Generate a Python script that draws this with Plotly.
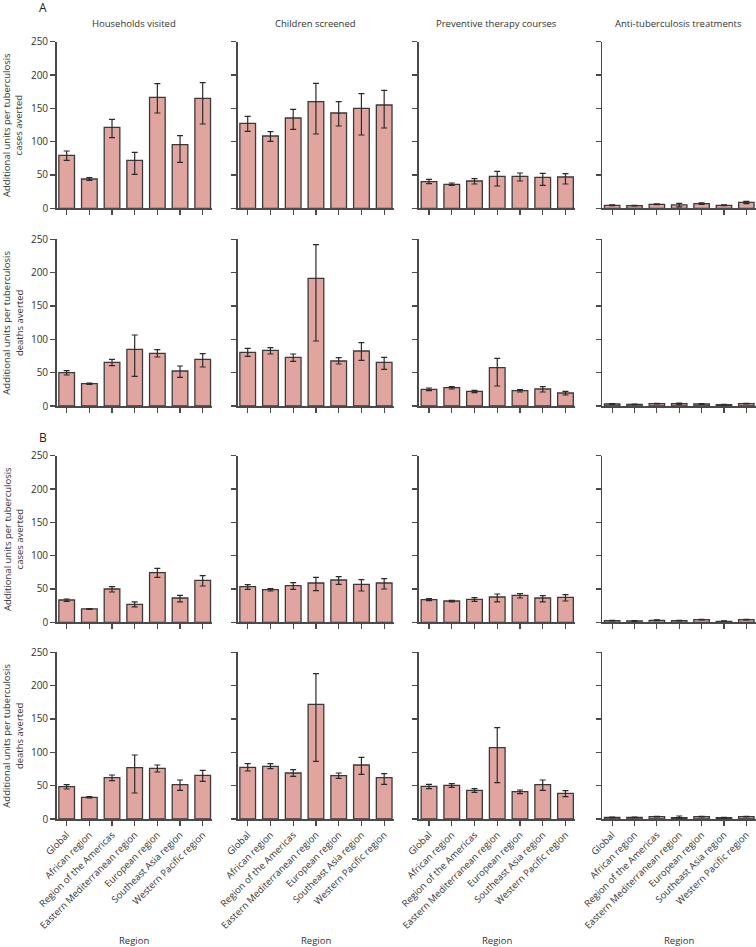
import plotly.graph_objects as go

regions = ["Global", "African region", "Region of the Americas", "Eastern Mediterranean region",
           "European region", "Southeast Asia region", "Western Pacific region"]
measures = ["Households visited", "Children screened", "Preventive therapy courses",
            "Anti-tuberculosis treatments"]
y_ticks = [0, 50, 100, 150, 200, 250]
row_titles = ["Additional units per tuberculosis<br>cases averted",
              "Additional units per tuberculosis<br>deaths averted",
              "Additional units per tuberculosis<br>cases averted",
              "Additional units per tuberculosis<br>deaths averted"]

# ---- A: cases averted ----
a_cases_households = [79.5, 44, 121.5, 72, 166.5, 95.5, 165]
a_cases_households_lo = [72, 42, 106, 51, 143, 69, 126.5]
a_cases_households_hi = [86, 46, 133.5, 84, 187, 109, 188.5]
a_cases_children = [127.5, 108.5, 135.5, 160, 143, 150, 155]
a_cases_children_lo = [115.5, 100.5, 118.5, 111.5, 123.5, 110, 120.5]
a_cases_children_hi = [138, 115, 148.5, 187.5, 160, 172, 177]
a_cases_preventive = [40, 36, 41, 48, 48, 46.5, 47]
a_cases_preventive_lo = [37, 34.5, 36.5, 33.5, 41, 34.5, 36.5]
a_cases_preventive_hi = [43.5, 38, 44.5, 55.5, 53, 52.5, 52]
a_cases_treatment = [4.5, 4, 6, 5, 7, 4.5, 9]
a_cases_treatment_lo = [4, 3.5, 5.5, 2, 6, 4, 7]
a_cases_treatment_hi = [5, 4.5, 6.5, 7.5, 8, 5, 10.5]

# ---- A: deaths averted ----
a_deaths_households = [50, 33.5, 65.5, 85, 79, 52.5, 70]
a_deaths_households_lo = [46.5, 32.5, 60.5, 44.5, 73.5, 43, 58.5]
a_deaths_households_hi = [53, 34.5, 70, 106.5, 84.5, 60, 78.5]
a_deaths_children = [80.5, 83.5, 73, 191.5, 67.5, 82.5, 65.5]
a_deaths_children_lo = [74.5, 78, 67, 97.5, 63, 68.5, 55]
a_deaths_children_hi = [86.5, 87.5, 78, 242, 72.5, 95, 73]
a_deaths_preventive = [25, 27.5, 22, 57.5, 23, 25.5, 19.5]
a_deaths_preventive_lo = [23, 25.5, 20, 30, 21, 21, 16.5]
a_deaths_preventive_hi = [27, 29, 23.5, 71.5, 24.5, 29, 22]
a_deaths_treatment = [3, 2.5, 3.5, 3.5, 3, 2, 3.5]
a_deaths_treatment_lo = [2.5, 2, 3, 2.5, 2.5, 1.5, 3]
a_deaths_treatment_hi = [3.5, 3, 4, 4.5, 3.5, 2.5, 4]

# ---- B: cases averted ----
b_cases_households = [33.5, 20, 50, 27, 74.5, 36.5, 63]
b_cases_households_lo = [31.5, 19.5, 45.5, 23, 67.5, 30.5, 54.5]
b_cases_households_hi = [35, 20.5, 53.5, 30.5, 81, 40.5, 70]
b_cases_children = [53.5, 49, 55, 59, 63.5, 57, 59]
b_cases_children_lo = [49.5, 47, 49.5, 47.5, 57, 47, 50]
b_cases_children_hi = [56.5, 50.5, 59.5, 67.5, 68.5, 64, 65.5]
b_cases_preventive = [34, 32, 34.5, 38, 40.5, 36.5, 37.5]
b_cases_preventive_lo = [32.5, 30.5, 31.5, 30.5, 36.5, 30.5, 32]
b_cases_preventive_hi = [35.5, 33, 37, 42.5, 43, 40, 41.5]
b_cases_treatment = [2.5, 2, 3, 2.5, 4, 1.5, 4]
b_cases_treatment_lo = [2, 1.5, 2.5, 2, 3.5, 1, 3.5]
b_cases_treatment_hi = [3, 2.5, 3.5, 3, 4.5, 2, 4.5]

# ---- B: deaths averted ----
b_deaths_households = [48.5, 32.5, 62, 77, 76, 51.5, 65.5]
b_deaths_households_lo = [45, 31.5, 57.5, 39, 70.5, 43, 56.5]
b_deaths_households_hi = [51.5, 33.5, 66, 96, 81, 58.5, 73]
b_deaths_children = [77.5, 79, 69, 172, 65, 81, 62]
b_deaths_children_lo = [72, 75.5, 64, 86.5, 61, 67, 52]
b_deaths_children_hi = [83, 83, 74, 218, 69, 92.5, 68]
b_deaths_preventive = [49, 50.5, 43, 107, 41, 51.5, 38.5]
b_deaths_preventive_lo = [45.5, 47.5, 40, 54.5, 38, 43, 33.5]
b_deaths_preventive_hi = [52, 53, 45.5, 137, 43.5, 58.5, 42.5]
b_deaths_treatment = [2.5, 2.5, 3.5, 2, 3.5, 2, 3.5]
b_deaths_treatment_lo = [2, 2, 3, 1, 3, 1.5, 3]
b_deaths_treatment_hi = [3, 3, 4, 4.5, 4, 2.5, 4]

panels = [
    [(a_cases_households, a_cases_households_lo, a_cases_households_hi),
     (a_cases_children, a_cases_children_lo, a_cases_children_hi),
     (a_cases_preventive, a_cases_preventive_lo, a_cases_preventive_hi),
     (a_cases_treatment, a_cases_treatment_lo, a_cases_treatment_hi)],
    [(a_deaths_households, a_deaths_households_lo, a_deaths_households_hi),
     (a_deaths_children, a_deaths_children_lo, a_deaths_children_hi),
     (a_deaths_preventive, a_deaths_preventive_lo, a_deaths_preventive_hi),
     (a_deaths_treatment, a_deaths_treatment_lo, a_deaths_treatment_hi)],
    [(b_cases_households, b_cases_households_lo, b_cases_households_hi),
     (b_cases_children, b_cases_children_lo, b_cases_children_hi),
     (b_cases_preventive, b_cases_preventive_lo, b_cases_preventive_hi),
     (b_cases_treatment, b_cases_treatment_lo, b_cases_treatment_hi)],
    [(b_deaths_households, b_deaths_households_lo, b_deaths_households_hi),
     (b_deaths_children, b_deaths_children_lo, b_deaths_children_hi),
     (b_deaths_preventive, b_deaths_preventive_lo, b_deaths_preventive_hi),
     (b_deaths_treatment, b_deaths_treatment_lo, b_deaths_treatment_hi)],
]

W, H = 756, 947
FONT = "Open Sans"
TXT = "#333333"
BAR = "#E1A5A0"
EDGE = "#3a3a3a"
AXC = "#4a4a4a"

col_px = [(56.7, 212.0), (237.7, 393.5), (419.0, 574.8), (602.3, 755.5)]
row_px = [(41.7, 208.3), (239.3, 406.0), (455.7, 622.3), (652.3, 819.0)]

def px_x(x):
    return x / W

def px_y(y):
    return 1 - y / H

fig = go.Figure()
layout_axes = {}
for r in range(4):
    for c in range(4):
        idx = r * 4 + c + 1
        sfx = "" if idx == 1 else str(idx)
        vals, lo, hi = panels[r][c]
        plus = [h - v for h, v in zip(hi, vals)]
        minus = [v - l for v, l in zip(vals, lo)]
        fig.add_trace(go.Bar(
            x=regions, y=vals,
            xaxis="x" + sfx, yaxis="y" + sfx,
            marker=dict(color=BAR, line=dict(color=EDGE, width=1.3)),
            error_y=dict(type="data", symmetric=False, array=plus, arrayminus=minus,
                         color="#2a2a2a", thickness=1.2, width=3),
            showlegend=False, hoverinfo="skip",
        ))
        x0, x1 = col_px[c]
        yt, yb = row_px[r]
        layout_axes["xaxis" + sfx] = dict(
            domain=[px_x(x0), px_x(x1)], anchor="y" + sfx, automargin=False,
            type="category", range=[-0.44, 6.41],
            showline=True, linecolor=AXC, linewidth=1.6,
            ticks="outside", ticklen=5, tickwidth=1.2, tickcolor=AXC,
            showticklabels=(r == 3), tickangle=-45,
            tickfont=dict(family=FONT, size=9.5, color=TXT),
            showgrid=False, zeroline=False,
        )
        layout_axes["yaxis" + sfx] = dict(
            domain=[px_y(yb), px_y(yt)], anchor="x" + sfx, automargin=False,
            range=[0, 250], tickvals=y_ticks,
            showline=True, linecolor=AXC, linewidth=1.6,
            ticks="outside", ticklen=5, tickwidth=1.2, tickcolor=AXC,
            showticklabels=(c == 0),
            tickfont=dict(family=FONT, size=10, color=TXT),
            showgrid=False, zeroline=False,
        )

annotations = []
for c, m in enumerate(measures):
    x0, x1 = col_px[c]
    annotations.append(dict(text=m, x=px_x((x0 + x1) / 2), y=px_y(24), xref="paper", yref="paper",
                            showarrow=False, xanchor="center", yanchor="middle",
                            font=dict(family=FONT, size=9.5, color=TXT)))
    annotations.append(dict(text="Region", x=px_x((x0 + x1) / 2), y=px_y(940), xref="paper", yref="paper",
                            showarrow=False, xanchor="center", yanchor="middle",
                            font=dict(family=FONT, size=9.5, color=TXT)))
for r in range(4):
    yt, yb = row_px[r]
    annotations.append(dict(text=row_titles[r], x=px_x(13), y=px_y((yt + yb) / 2),
                            xref="paper", yref="paper", showarrow=False, textangle=-90,
                            xanchor="center", yanchor="middle",
                            font=dict(family=FONT, size=9.5, color=TXT)))
for lab, yy in (("A", 7), ("B", 437)):
    annotations.append(dict(text=lab, x=px_x(43), y=px_y(yy), xref="paper", yref="paper",
                            showarrow=False, xanchor="center", yanchor="middle",
                            font=dict(family=FONT, size=12, color="#222222")))

fig.update_layout(
    template="none",
    width=W, height=H,
    margin=dict(l=0, r=0, t=0, b=0, pad=0),
    paper_bgcolor="white", plot_bgcolor="white",
    bargap=0.31,
    annotations=annotations,
    **layout_axes,
)

fig.write_html("out.html",
               config={"displayModeBar": False, "staticPlot": True},
               post_script="document.body.style.margin='0';document.body.style.overflow='hidden';")
